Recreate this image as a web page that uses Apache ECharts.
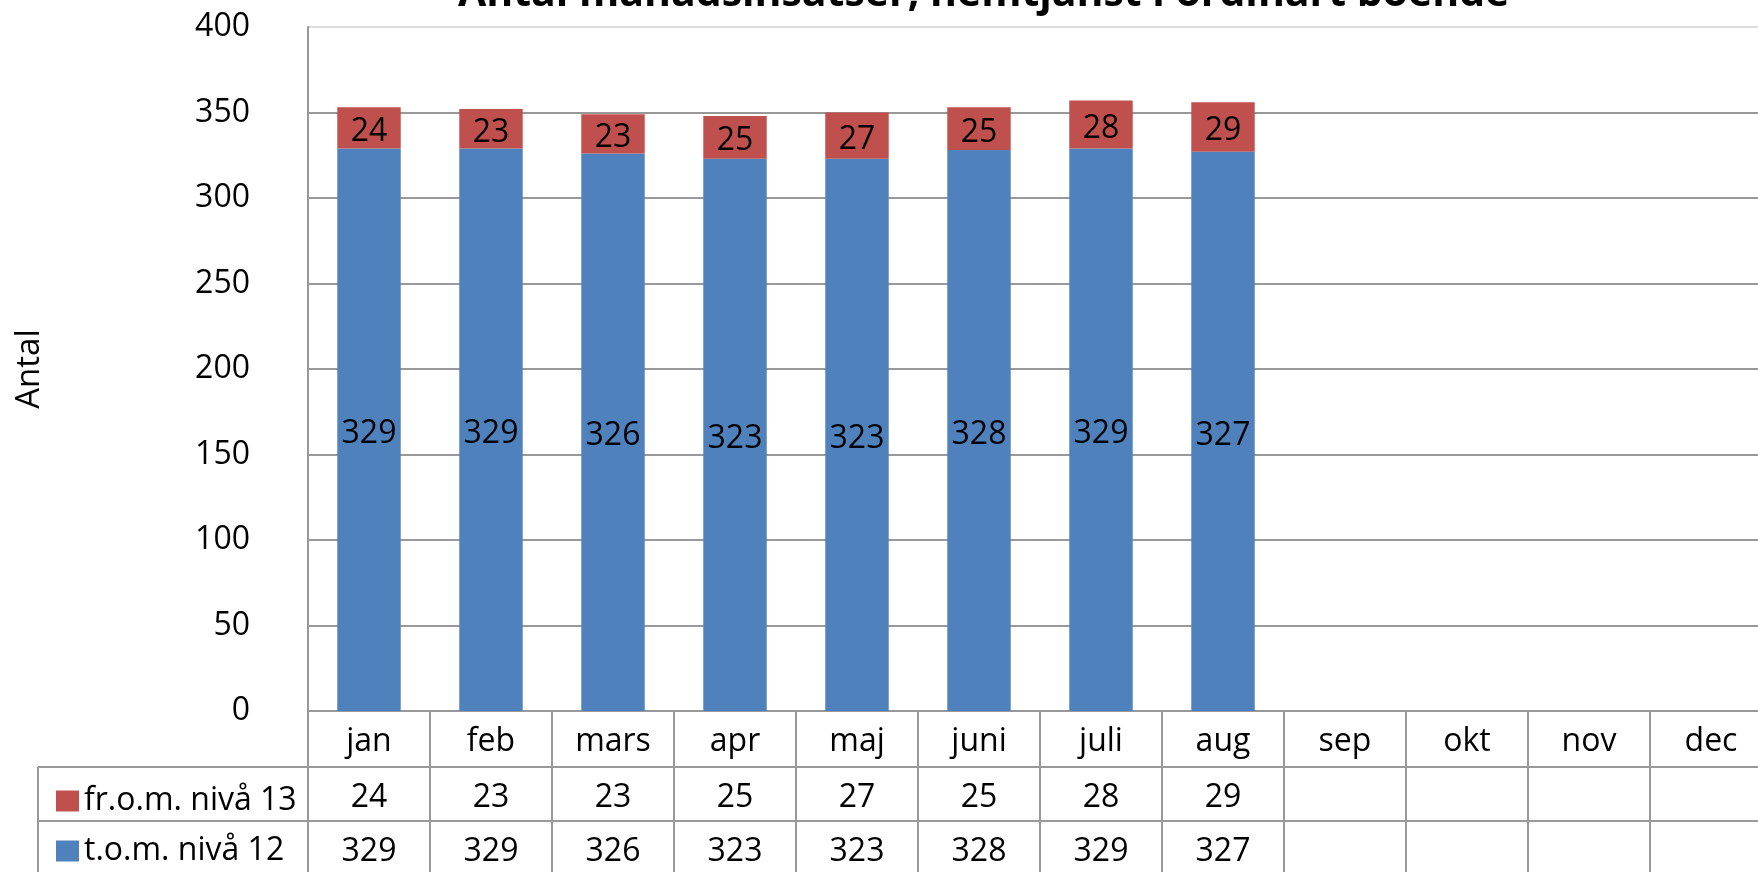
<!DOCTYPE html>
<html>
<head>
<meta charset="utf-8">
<script src="https://cdn.jsdelivr.net/npm/echarts@6/dist/echarts.min.js"></script>
<style>
html,body{margin:0;padding:0;background:#fff;}
#chart{width:1758px;height:872px;}
</style>
</head>
<body>
<div id="chart"></div>
<script>
const titleText = 'Antal månadsinsatser, hemtjänst i ordinärt boende';
const categories = ['jan','feb','mars','apr','maj','juni','juli','aug','sep','okt','nov','dec'];
const seriesNames = ['fr.o.m. nivå 13', 't.o.m. nivå 12'];
const fromLevel13 = [24, 23, 23, 25, 27, 25, 28, 29, null, null, null, null];
const tomLevel12 = [329, 329, 326, 323, 323, 328, 329, 327, null, null, null, null];
const yMin = 0, yMax = 400, yStep = 50;

const FONT = '"Open Sans"';
const GRAY = '#999999';
const chart = echarts.init(document.getElementById('chart'), null, {renderer: 'canvas'});

const lineStyle = {color: GRAY, width: 2};
function rowAxis(offset, values, tickLen) {
  return {
    type: 'category', data: categories, position: 'bottom', offset: offset,
    axisLine: {show: true, lineStyle: lineStyle},
    axisTick: {show: true, length: tickLen, lineStyle: lineStyle},
    axisLabel: {
      margin: 15, fontSize: 32, fontFamily: FONT, color: '#000',
      formatter: (v, i) => values ? (values[i] == null ? '' : String(values[i])) : v
    },
    splitLine: {show: false}
  };
}

const nLines = (yMax - yMin) / yStep + 1;
const splitColors = [];
for (let i = 0; i < nLines; i++) splitColors.push(i === nLines - 1 ? '#dcdcdc' : GRAY);

const barLabel = {show: true, position: 'inside', offset: [0, 4], fontSize: 32, fontFamily: FONT, color: '#000'};

chart.setOption({
  animation: false,
  backgroundColor: '#fff',
  title: {
    text: titleText, left: 453, top: -31,
    textStyle: {fontSize: 41, fontWeight: 'bold', fontFamily: FONT, color: '#000'}
  },
  grid: {left: 308, width: 1464, top: 27, bottom: 161, containLabel: false, outerBoundsMode: 'none'},
  legend: {
    data: seriesNames, orient: 'vertical', left: 51, top: 780,
    icon: 'rect', itemWidth: 23, itemHeight: 21, itemGap: 18,
    textStyle: {fontSize: 32, fontFamily: FONT, color: '#000'}
  },
  xAxis: [
    rowAxis(0, null, 56),
    rowAxis(56, fromLevel13, 54),
    rowAxis(110, tomLevel12, 60)
  ],
  yAxis: {
    type: 'value', min: yMin, max: yMax, interval: yStep,
    name: 'Antal', nameLocation: 'middle', nameGap: 262,
    nameTextStyle: {fontSize: 33, fontFamily: FONT, color: '#000'},
    axisLine: {show: true, lineStyle: lineStyle},
    axisTick: {show: false},
    axisLabel: {margin: 58, fontSize: 32, fontFamily: FONT, color: '#000'},
    splitLine: {show: true, lineStyle: {color: splitColors, width: 2}}
  },
  graphic: [
    {type: 'line', shape: {x1: 38, y1: 767, x2: 309, y2: 767}, style: {stroke: GRAY, lineWidth: 2}},
    {type: 'line', shape: {x1: 38, y1: 821, x2: 309, y2: 821}, style: {stroke: GRAY, lineWidth: 2}},
    {type: 'line', shape: {x1: 38, y1: 767, x2: 38, y2: 880}, style: {stroke: GRAY, lineWidth: 2}}
  ],
  series: [
    {
      name: seriesNames[1], type: 'bar', stack: 'total', data: tomLevel12,
      barWidth: '52%', itemStyle: {color: '#4F81BD'}, label: barLabel
    },
    {
      name: seriesNames[0], type: 'bar', stack: 'total', data: fromLevel13,
      barWidth: '52%', itemStyle: {color: '#C0504D'}, label: barLabel
    }
  ]
});
</script>
</body>
</html>
